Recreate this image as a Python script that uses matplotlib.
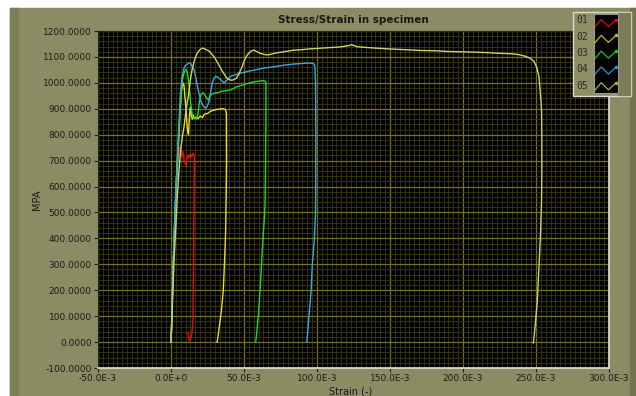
#Stress/Strain chart

import numpy as np
import matplotlib
matplotlib.use("Agg")
import matplotlib.pyplot as plt
from matplotlib.patches import Rectangle
from matplotlib.ticker import MultipleLocator

#Datos (strain en 1E-3, stress en MPA)
strain_01 = [0.0, 0.5, 1.2, 2.0, 2.8, 3.6, 4.5, 5.5, 6.2, 6.8, 7.5, 8.2, 9.0, 9.8, 10.5, 11.0, 11.5, 12.0,
             12.6, 13.2, 13.8, 14.4, 15.0, 15.6, 16.0, 16.0, 15.9, 15.7, 15.5, 15.3, 15.0, 14.2, 13.4,
             12.8, 12.2, 11.6]
stress_01 = [-5, 80, 230, 380, 500, 600, 680, 735, 752, 745, 715, 735, 700, 690, 675, 705, 720, 712,
             722, 710, 725, 715, 728, 722, 720, 700, 600, 480, 350, 236, 75, 30, 10,
             4, 20, 36]

strain_02 = [0.0, 0.5, 1.2, 2.0, 2.8, 3.6, 4.5, 5.5, 6.3, 7.2, 8.2, 8.9, 9.6, 10.3, 10.8, 11.5, 12.0,
             12.5, 13.2, 13.8, 14.5, 15.3, 16.2, 17.0, 18.5, 20.0, 21.5, 23.0, 25.0, 27.0, 29.5, 32.0,
             34.5, 36.3, 37.5, 38.0, 38.1, 37.8, 37.4, 36.6, 35.8, 34.5, 33.3, 32.3, 31.7, 31.3]
stress_02 = [0, 80, 230, 380, 500, 610, 700, 800, 900, 970, 1000, 990, 940, 900, 850, 810, 800,
             860, 905, 880, 860, 875, 862, 868, 862, 872, 866, 880, 882, 890, 895, 898,
             900, 900, 895, 880, 700, 560, 420, 300, 200, 120, 70, 25, 3, 0]

strain_03 = [0.0, 0.5, 1.2, 2.0, 2.8, 3.6, 4.5, 5.5, 6.5, 7.8, 9.0, 10.0, 10.7, 11.5, 12.5, 13.5, 14.5,
             15.5, 16.5, 17.5, 18.5, 19.5, 20.5, 21.9, 23.0, 24.5, 25.6, 26.5, 27.5, 29.5, 32.0, 35.0,
             38.0, 42.0, 45.0, 48.0, 51.0, 53.4, 56.0, 59.0, 62.5, 64.5, 65.0, 65.0, 64.8, 64.5, 64.2,
             63.0, 62.0, 61.0, 59.8, 58.6, 58.0]
stress_03 = [0, 80, 230, 380, 510, 620, 720, 830, 930, 1012, 1040, 1050, 1052, 1030, 980, 920, 880,
             862, 866, 860, 880, 930, 955, 962, 955, 940, 934, 945, 955, 960, 962, 968,
             970, 975, 985, 990, 995, 999, 1003, 1006, 1008, 1007, 1000, 900, 700, 560, 500,
             400, 300, 200, 100, 30, 0]

strain_04 = [0.0, 0.5, 1.2, 2.0, 2.8, 3.6, 4.5, 5.5, 6.5, 7.5, 8.8, 10.0, 11.0, 12.5, 13.5, 14.5, 15.8,
             17.0, 18.2, 19.2, 20.5, 22.0, 23.8, 25.0, 26.0, 27.2, 28.3, 29.5, 30.6, 32.0, 34.0, 36.3,
             38.0, 39.7, 41.5, 44.3, 46.6, 50.0, 53.0, 56.0, 60.3, 65.0, 71.7, 77.0, 83.0, 88.0, 93.0,
             95.7, 97.5, 98.5, 99.0, 99.2, 99.1, 99.0, 98.2, 96.8, 96.0, 94.5, 93.5, 93.0]
stress_04 = [0, 80, 230, 380, 510, 620, 730, 850, 960, 1020, 1055, 1068, 1072, 1078, 1075, 1062, 1050,
             1020, 985, 960, 930, 910, 902, 912, 928, 965, 1000, 1018, 1025, 1022, 1012, 1000,
             1008, 1019, 1027, 1031, 1037, 1040, 1045, 1048, 1053, 1058, 1063, 1068, 1072, 1074, 1076,
             1076, 1075, 1068, 1000, 800, 600, 500, 400, 300, 200, 100, 30, 0]

strain_05 = [0.0, 0.6, 1.3, 2.2, 3.2, 4.3, 5.5, 6.8, 8.0, 8.9, 10.0, 11.0, 11.9, 13.2, 14.6, 16.2, 18.0,
             19.8, 21.5, 23.5, 26.0, 27.8, 29.5, 31.2, 32.9, 34.6, 36.3, 38.0, 39.7, 41.5, 43.0, 44.8,
             46.6, 48.8, 50.5, 52.0, 53.4, 55.0, 56.8, 59.0, 60.8, 62.5, 65.0, 67.0, 69.5, 71.7, 75.0,
             78.5, 84.0, 89.7, 95.0, 101.0, 106.0, 112.0, 118.0, 121.0, 124.0, 127.0, 130.0, 135.0,
             140.0, 149.0, 160.0, 170.0, 180.0, 190.0, 204.0, 215.0, 225.0, 233.8, 239.0, 243.0,
             246.0, 248.6, 250.5, 252.0, 253.0, 253.8, 254.0, 254.0, 253.8, 253.2, 252.0, 250.9,
             249.3, 248.2]
stress_05 = [0, 80, 200, 330, 430, 559, 665, 750, 800, 830, 880, 920, 950, 1010, 1055, 1090, 1115,
             1128, 1134, 1130, 1123, 1112, 1100, 1085, 1068, 1050, 1035, 1020, 1013, 1010, 1012, 1018,
             1035, 1063, 1090, 1106, 1115, 1123, 1126, 1120, 1114, 1112, 1108, 1108, 1112, 1115, 1118,
             1121, 1126, 1128, 1131, 1133, 1135, 1137, 1140, 1143, 1147, 1140, 1138, 1136,
             1134, 1131, 1128, 1125, 1124, 1121, 1119, 1117, 1114, 1112, 1108, 1102,
             1095, 1083, 1060, 1025, 960, 895, 800, 650, 546, 430, 288, 159,
             55, -3]

series_names = ["01", "02", "03", "04", "05"]
series_colors = ["#e01010", "#e8e010", "#18e018", "#3aa8e8", "#cdd468"]
legend_colors = ["#d01010", "#c8b818", "#18c818", "#3090d0", "#a8ac40"]

x_ticks = [-50e-3, 0.0, 50e-3, 100e-3, 150e-3, 200e-3, 250e-3, 300e-3]
x_tick_labels = ["-50.0E-3", "0.0E+0", "50.0E-3", "100.0E-3", "150.0E-3", "200.0E-3", "250.0E-3", "300.0E-3"]
y_ticks = np.arange(-100, 1201, 100)

#Figura
W, H = 636, 396
olive = "#8b8c63"
fig = plt.figure(figsize=(W / 100, H / 100), dpi=100)
fig.patch.set_facecolor("white")

def px(x0, y0, w, h):
    # rectangulo en pixeles (y desde arriba) -> coordenadas de figura
    return [x0 / W, 1 - (y0 + h) / H, w / W, h / H]

def rect(x0, y0, w, h, z, **kw):
    r = px(x0, y0, w, h)
    fig.add_artist(Rectangle((r[0], r[1]), r[2], r[3], transform=fig.transFigure, zorder=z, **kw))

rect(10, 8, 626, 388, -2, color=olive)
rect(10, 8, 8, 388, -2, color="#7e7f58")
rect(630, 8, 6, 388, -2, color="#74754f")

ax = fig.add_axes(px(98, 31, 511, 337))
ax.set_facecolor("black")

datos = [(strain_01, stress_01), (strain_02, stress_02), (strain_03, stress_03),
         (strain_04, stress_04), (strain_05, stress_05)]
for (s, st), c in zip(datos, series_colors):
    ax.plot(np.array(s) * 1e-3, st, color=c, lw=1.0, zorder=3)

ax.set_xlim(-50e-3, 300e-3)
ax.set_ylim(-100, 1200)
ax.set_xticks(x_ticks)
ax.set_xticklabels(x_tick_labels)
ax.set_yticks(y_ticks)
ax.set_yticklabels(["%.4f" % v for v in y_ticks])
ax.xaxis.set_minor_locator(MultipleLocator(50e-3 / 15))
ax.yaxis.set_minor_locator(MultipleLocator(20))
ax.grid(which="major", color="#77721f", lw=0.9, zorder=1)
ax.grid(which="minor", color="#3a3912", lw=0.6, zorder=0)
ax.set_axisbelow(True)
ax.tick_params(which="major", direction="out", length=3, width=0.8, color="#222222",
               labelsize=6.5, labelcolor="#1a1a1a", pad=1.5)
ax.tick_params(which="minor", length=0)
for side in ["bottom", "right"]:
    ax.spines[side].set_color("#e2e2da")
    ax.spines[side].set_linewidth(1.2)
for side in ["top", "left"]:
    ax.spines[side].set_color("#2a2a1a")

fig.text(353.5 / W, 1 - 20 / H, "Stress/Strain in specimen", ha="center", va="center",
         fontsize=7.5, fontweight="bold", color="#1a1a1a")
fig.text(351 / W, 1 - 391 / H, "Strain (-)", ha="center", va="center", fontsize=7, color="#1a1a1a")
fig.text(37 / W, 1 - 200 / H, "MPA", ha="center", va="center", rotation=90, fontsize=7, color="#1a1a1a")

#Leyenda
rect(573, 12, 58, 84, 5, facecolor="#8e8f67", edgecolor="#dcdcd0", lw=1.0)
rect(618, 13, 12, 82, 5, color="#7c7d56")
lax = fig.add_axes(px(594, 14, 24, 79))
lax.set_zorder(6)
lax.set_facecolor("black")
lax.set_xlim(0, 1)
lax.set_ylim(5, 0)
lax.set_xticks([])
lax.set_yticks([])
for sp in lax.spines.values():
    sp.set_color("#9a9a90")
zig_x = [0.05, 0.3, 0.6, 0.92]
zig_y = [0.75, 0.3, 0.75, 0.3]
for i, (n, c) in enumerate(zip(series_names, legend_colors)):
    lax.plot(zig_x, [i + 0.05 + v for v in zig_y], color=c, lw=0.9)
    lax.plot([zig_x[-1]], [i + 0.05 + zig_y[-1]], "o", color=c, ms=1.5)
    fig.text(576 / W, 1 - (20 + i * 16.5) / H, n, ha="left", va="center", fontsize=7,
             color="#2a2a2a", family="DejaVu Sans Mono", zorder=7)

fig.savefig("out.png", dpi=100)
